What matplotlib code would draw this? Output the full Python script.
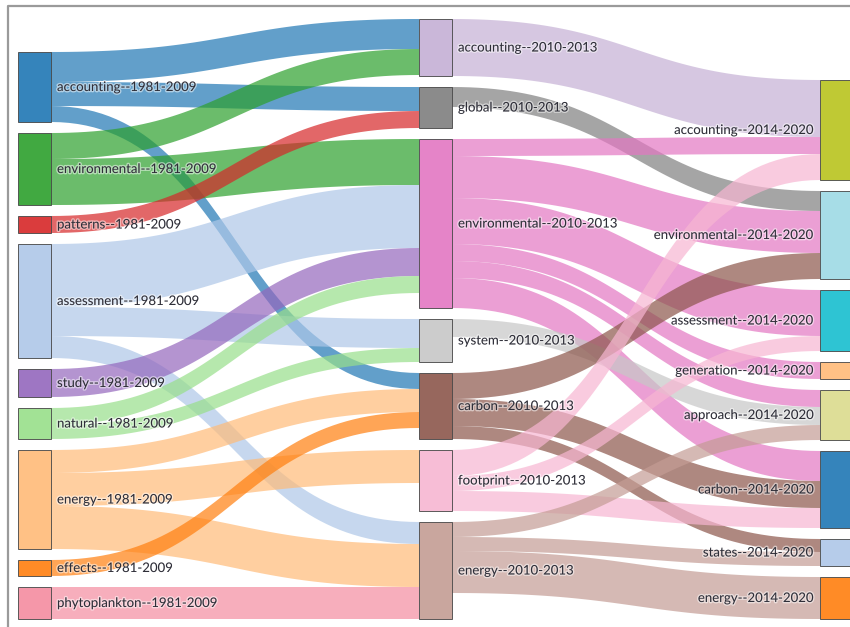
import numpy as np
import matplotlib.pyplot as plt
from matplotlib.patches import Rectangle, Polygon
import matplotlib.patheffects as pe

plt.rcParams['font.family'] = ['Lato', 'DejaVu Sans']

# Nós de cada coluna (rótulo e cor)
nos_col1 = ['accounting--1981-2009', 'environmental--1981-2009', 'patterns--1981-2009',
            'assessment--1981-2009', 'study--1981-2009', 'natural--1981-2009',
            'energy--1981-2009', 'effects--1981-2009', 'phytoplankton--1981-2009']
cores_col1 = ['#1f77b4', '#2ca02c', '#d62728', '#aec7e8', '#9467bd',
              '#98df8a', '#ffbb78', '#ff7f0e', '#f48ca0']

nos_col2 = ['accounting--2010-2013', 'global--2010-2013', 'environmental--2010-2013',
            'system--2010-2013', 'carbon--2010-2013', 'footprint--2010-2013',
            'energy--2010-2013']
cores_col2 = ['#c5b0d5', '#7f7f7f', '#e377c2', '#c7c7c7', '#8c564b', '#f7b6d2', '#c49c94']

nos_col3 = ['accounting--2014-2020', 'environmental--2014-2020', 'assessment--2014-2020',
            'generation--2014-2020', 'approach--2014-2020', 'carbon--2014-2020',
            'states--2014-2020', 'energy--2014-2020']
cores_col3 = ['#b8c41e', '#9edae5', '#17becf', '#ffbb78', '#dbdb8d',
              '#1f77b4', '#aec7e8', '#ff7f0e']

# Fluxos: origem -> destino, valor
origens = ['accounting--1981-2009', 'accounting--1981-2009', 'accounting--1981-2009',
           'environmental--1981-2009', 'environmental--1981-2009',
           'patterns--1981-2009',
           'assessment--1981-2009', 'assessment--1981-2009', 'assessment--1981-2009',
           'study--1981-2009',
           'natural--1981-2009', 'natural--1981-2009',
           'energy--1981-2009', 'energy--1981-2009', 'energy--1981-2009',
           'effects--1981-2009',
           'phytoplankton--1981-2009',
           'accounting--2010-2013',
           'global--2010-2013',
           'environmental--2010-2013', 'environmental--2010-2013', 'environmental--2010-2013',
           'environmental--2010-2013', 'environmental--2010-2013', 'environmental--2010-2013',
           'system--2010-2013',
           'carbon--2010-2013', 'carbon--2010-2013', 'carbon--2010-2013',
           'footprint--2010-2013', 'footprint--2010-2013', 'footprint--2010-2013',
           'energy--2010-2013', 'energy--2010-2013', 'energy--2010-2013']
destinos = ['accounting--2010-2013', 'global--2010-2013', 'carbon--2010-2013',
            'accounting--2010-2013', 'environmental--2010-2013',
            'global--2010-2013',
            'environmental--2010-2013', 'system--2010-2013', 'energy--2010-2013',
            'environmental--2010-2013',
            'environmental--2010-2013', 'system--2010-2013',
            'carbon--2010-2013', 'footprint--2010-2013', 'energy--2010-2013',
            'carbon--2010-2013',
            'energy--2010-2013',
            'accounting--2014-2020',
            'environmental--2014-2020',
            'accounting--2014-2020', 'environmental--2014-2020', 'assessment--2014-2020',
            'generation--2014-2020', 'approach--2014-2020', 'carbon--2014-2020',
            'approach--2014-2020',
            'environmental--2014-2020', 'carbon--2014-2020', 'states--2014-2020',
            'accounting--2014-2020', 'assessment--2014-2020', 'carbon--2014-2020',
            'approach--2014-2020', 'states--2014-2020', 'energy--2014-2020']
valores = [30, 24, 16,
           26, 46,
           17,
           63, 29, 22,
           28,
           17, 14,
           23, 33, 43,
           16,
           32,
           57,
           20,
           17, 42, 46, 17, 17, 30,
           18,
           26, 27, 13,
           26, 15, 20,
           15, 14, 42]

# Layout (pixels)
W, H = 850, 627
x_colunas = [18, 419, 820]
largura_no = 33
espaco = 11
base = 619

colunas = [nos_col1, nos_col2, nos_col3]
cores = {}
for nomes, cs in zip(colunas, [cores_col1, cores_col2, cores_col3]):
    cores.update(dict(zip(nomes, cs)))

entrada = {n: 0 for c in colunas for n in c}
saida = {n: 0 for c in colunas for n in c}
for o, d, v in zip(origens, destinos, valores):
    saida[o] += v
    entrada[d] += v
tamanho = {n: max(entrada[n], saida[n]) for n in entrada}

# Posição vertical dos nós (alinhados em baixo)
topo, xno, col_de = {}, {}, {}
for ci, nomes in enumerate(colunas):
    total = sum(tamanho[n] for n in nomes) + espaco * (len(nomes) - 1)
    y = base - total
    for n in nomes:
        topo[n] = y
        xno[n] = x_colunas[ci]
        col_de[n] = ci
        y += tamanho[n] + espaco

def centro(n):
    return topo[n] + tamanho[n] / 2

# Ordenar saídas pelo destino e entradas pela origem
idx = list(range(len(valores)))
pos_saida, pos_entrada = {}, {}
off = {n: 0 for n in entrada}
for i in sorted(idx, key=lambda i: (centro(origens[i]), centro(destinos[i]))):
    o = origens[i]
    pos_saida[i] = topo[o] + off[o]
    off[o] += valores[i]
off = {n: 0 for n in entrada}
for i in sorted(idx, key=lambda i: (centro(destinos[i]), centro(origens[i]))):
    d = destinos[i]
    pos_entrada[i] = topo[d] + off[d]
    off[d] += valores[i]

def bezier(x0, y0, x1, y1, n=60):
    t = np.linspace(0, 1, n)
    xm = (x0 + x1) / 2
    xs = (1 - t) ** 3 * x0 + 3 * (1 - t) ** 2 * t * xm + 3 * (1 - t) * t ** 2 * xm + t ** 3 * x1
    ys = (1 - t) ** 3 * y0 + 3 * (1 - t) ** 2 * t * y0 + 3 * (1 - t) * t ** 2 * y1 + t ** 3 * y1
    return xs, ys

fig = plt.figure(figsize=(W / 100, H / 100), dpi=100)
ax = fig.add_axes([0, 0, 1, 1])
ax.set_xlim(0, W)
ax.set_ylim(H, 0)
ax.axis('off')

# Moldura
ax.plot([8.5, 8.5, W], [H, 5.5, 5.5], color='#9a9a9a', lw=1.6, zorder=1)

# Fluxos
for i in idx:
    o, d, v = origens[i], destinos[i], valores[i]
    x0 = xno[o] + largura_no
    x1 = xno[d]
    y0, y1 = pos_saida[i], pos_entrada[i]
    xt, yt = bezier(x0, y0, x1, y1)
    xb, yb = bezier(x0, y0 + v, x1, y1 + v)
    pts = np.column_stack([np.concatenate([xt, xb[::-1]]), np.concatenate([yt, yb[::-1]])])
    ax.add_patch(Polygon(pts, closed=True, facecolor=cores[o], alpha=0.7,
                         edgecolor='none', zorder=2))

# Nós e rótulos
sombra = [pe.withStroke(linewidth=2, foreground='white', alpha=0.5)]
for n in entrada:
    ax.add_patch(Rectangle((xno[n], topo[n]), largura_no, tamanho[n],
                           facecolor=cores[n], alpha=0.9, edgecolor='#4a4a4a',
                           lw=0.7, zorder=3))
    if col_de[n] < 2:
        ax.text(xno[n] + largura_no + 6, centro(n), n, ha='left', va='center',
                fontsize=9.5, color='#2e2e38', zorder=4, path_effects=sombra)
    else:
        ax.text(xno[n] - 6, centro(n), n, ha='right', va='center',
                fontsize=9.5, color='#2e2e38', zorder=4, path_effects=sombra)

fig.savefig('out.png', dpi=100)
